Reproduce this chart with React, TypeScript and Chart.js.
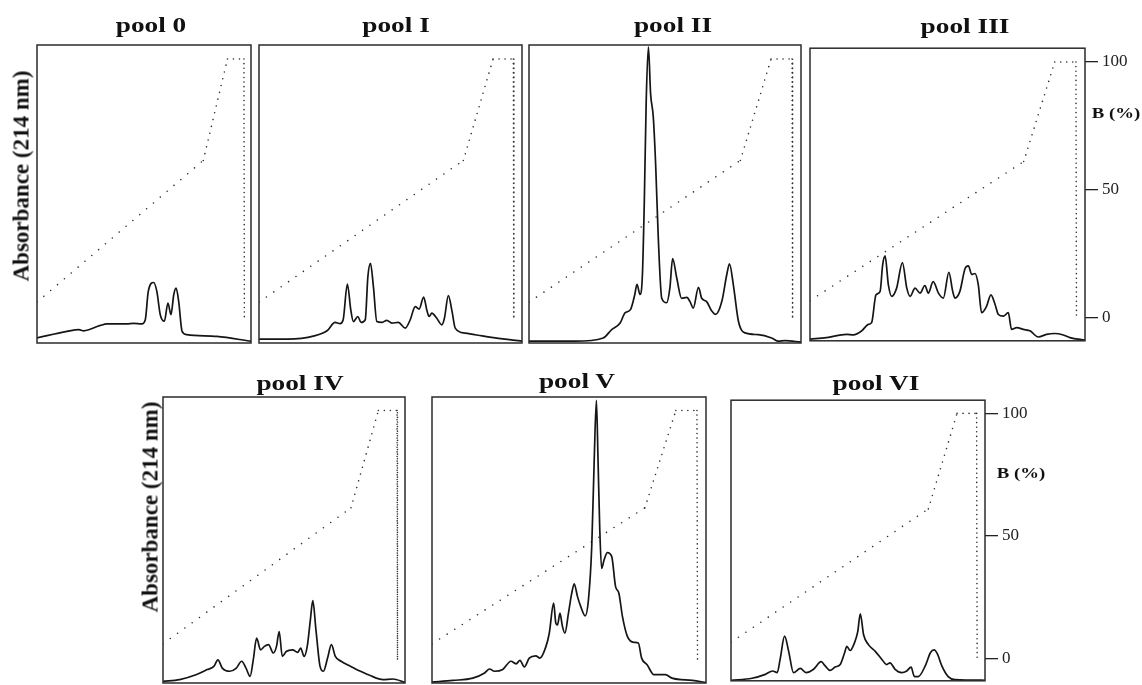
import React, { useEffect, useRef } from "react";
import { Chart, registerables } from "chart.js";

Chart.register(...registerables);

// ---- Gradient (B %) shared by every run ----
const gradientTime = [0, 77.7, 89, 96.7, 96.9];
const gradientB = [6.5, 61, 100, 100, 0];
const bTicks = [0, 50, 100];

// ---- Absorbance traces (time in % of run, absorbance in % of full scale) ----
const pool0Time = [0, 14, 19.6, 21.8, 29.6, 32.7, 42, 45, 49, 50.6, 52, 54.5, 56, 57.6, 59.5, 61.2, 62.6, 63.9, 65, 66.2, 67.8, 70, 84, 100];
const pool0Abs = [1.7, 3.9, 4.5, 4.1, 5.9, 6.4, 6.4, 6.6, 6.4, 7.8, 17.3, 20.3, 17.3, 9.5, 7.3, 13.4, 9.5, 16.2, 18.4, 14, 3.9, 2.8, 2.2, 0.6];

const pool1Time = [0, 11, 21, 26, 28.9, 30.8, 32, 33.6, 34.9, 35.9, 37.6, 38.8, 40.4, 41.4, 42.4, 43.5, 44.8, 46.7, 48.6, 50.5, 53, 55.6, 57.5, 59.4, 60.9, 62.6, 63.8, 64.7, 65.7, 67.6, 69.5, 70.5, 72, 73.4, 74.6, 78.4, 84.8, 89.8, 100];
const pool1Abs = [1.3, 1.3, 2.4, 4.2, 6.9, 6.5, 7.8, 19.8, 11.1, 7.2, 8.9, 6.9, 7.8, 22.3, 26.7, 18.9, 7.2, 6.9, 7.6, 6.7, 6.9, 5.0, 7.8, 12.2, 11.4, 15.4, 11.1, 8.9, 10, 8.3, 6.1, 8.3, 15.9, 10.6, 5, 3.3, 2.4, 1.7, 0.6];

const pool2Time = [0, 16.9, 27.3, 30.4, 33.5, 35.3, 37.3, 38.9, 39.7, 40.8, 41.7, 42.4, 43.1, 43.9, 44.7, 45.7, 46.6, 47.5, 48.8, 50.6, 51.8, 52.8, 54.3, 56.1, 58, 59.2, 60.4, 62.3, 63.5, 65.3, 67.2, 68.6, 70.9, 72.7, 73.7, 75.1, 77, 79.4, 84.3, 89.2, 91.7, 94.1, 100];
const pool2Abs = [0.6, 0.6, 1.7, 4.5, 6.7, 10.1, 11.2, 16.3, 19.7, 16.3, 23, 47.8, 81.5, 99.4, 83.7, 75.8, 59, 36, 15, 13.5, 18.5, 28.3, 21.9, 15, 15.3, 13.9, 11.7, 18.7, 15, 13.9, 10.7, 9.6, 14, 22.9, 26.6, 19.7, 7.3, 3.4, 2.8, 1.7, 0.6, 0.8, 0.3];

const pool3Time = [0, 6, 13.3, 15.8, 18.8, 21.2, 22.4, 24, 25.5, 26.4, 27.3, 28.5, 29.7, 31.5, 33.6, 35.2, 36.4, 38.2, 40, 41.8, 43, 44.8, 46.7, 48.5, 50.5, 51.9, 52.7, 54.5, 56.4, 57.6, 58.8, 60, 61.2, 62.4, 64.2, 65.8, 67.3, 68.5, 70.3, 72.1, 73.3, 75.2, 77.6, 80, 83, 86, 89, 92.1, 94.5, 100];
const pool3Abs = [0.6, 1.1, 2.2, 2, 3.4, 5.6, 6.2, 15.7, 16.9, 25.8, 29, 19.1, 15.2, 18, 26.7, 18, 15.2, 18, 16.3, 18.9, 16.3, 20.2, 16.3, 14.6, 23.4, 16.9, 14.6, 16.9, 24.7, 25.6, 22.7, 23, 19.1, 9.6, 11.8, 15.7, 12.4, 9, 8.4, 9.6, 3.9, 4.5, 3.9, 3.4, 1.3, 2.2, 2.5, 2, 1.1, 0.2];

const pool4Time = [0, 6.9, 13.6, 18.3, 21, 22.7, 24.5, 27.6, 30.3, 32.5, 34.3, 36, 37.3, 38.7, 40.3, 41.9, 43.6, 45.6, 46.9, 48, 49.3, 50.9, 53.6, 55.6, 56.9, 58.3, 59.6, 60.9, 61.9, 63.2, 64.9, 66.3, 68, 69.6, 71.2, 73.6, 77.6, 81.6, 85.6, 90.9, 94.9, 100];
const pool4Abs = [0.6, 1.2, 2.9, 4.7, 5.8, 8.1, 5.2, 4.1, 5.2, 7.6, 5.2, 2.3, 8.1, 15.7, 11.6, 12.8, 13.4, 10.5, 12.8, 18, 9.3, 11, 11.6, 10.7, 12.2, 9.3, 12.8, 22.1, 28.8, 18.6, 5.8, 4.1, 8.7, 13.4, 9.3, 7.6, 5.8, 4.1, 2.6, 1.2, 1.4, 0.2];

const pool5Time = [0, 7.6, 14.9, 19.2, 21, 22.8, 25.8, 28.8, 30.7, 32.1, 33.7, 35.5, 37.9, 39.4, 41.6, 42.8, 44.4, 45.2, 45.8, 46.7, 47.6, 48.5, 49.8, 51, 51.9, 53.1, 54.3, 55.9, 57.1, 58.3, 59.2, 60, 60.6, 61.2, 61.9, 62.8, 64, 65.6, 67, 68.2, 69.5, 71.3, 73.7, 75.3, 76.5, 78.5, 81, 85.2, 87.6, 95, 100];
const pool5Abs = [0.3, 0.9, 1.7, 3.5, 4.9, 4.1, 4.7, 7.6, 6.7, 7.9, 5.6, 8.7, 9.5, 8.7, 12.8, 17.4, 27.9, 20.9, 20.3, 24.4, 19.8, 17.4, 24.4, 31.4, 34.7, 30.2, 26.7, 23.5, 29.1, 47.7, 77.9, 98.8, 77.9, 54.7, 40.1, 43, 45.6, 44.2, 33.7, 31.4, 23.3, 16.3, 14.2, 14, 8.7, 6.4, 2.9, 2.9, 1.7, 0.9, 0.2];

const pool6Time = [0, 8.3, 13.5, 16.4, 18.2, 19.4, 21.1, 22.7, 24.6, 27.3, 29.5, 32.5, 35.5, 37.1, 39, 41, 43, 44.7, 45.6, 46.9, 48.6, 49.9, 50.9, 52.2, 54.1, 56.8, 59.4, 61.3, 62.6, 64.6, 67.2, 69.2, 70.9, 72.2, 73.7, 76.7, 78.5, 80, 81.3, 83, 85.5, 88.2, 100];
const pool6Abs = [0.2, 0.9, 2.3, 3.5, 2.9, 8, 15.9, 10.5, 2.9, 4.4, 2.9, 4.1, 6.8, 5.3, 3.7, 4.9, 5.8, 9.9, 12.3, 10.8, 13.5, 17.5, 23.9, 16.4, 12.9, 10.5, 7.6, 5.8, 6.4, 4.1, 2.9, 3.5, 4.9, 1.5, 1.5, 5.8, 10, 11, 9.5, 5.3, 1.5, 0.4, 0.2];

const poolTitles = ["pool 0", "pool I", "pool II", "pool III", "pool IV", "pool V", "pool VI"];
const poolTimes = [pool0Time, pool1Time, pool2Time, pool3Time, pool4Time, pool5Time, pool6Time];
const poolAbs = [pool0Abs, pool1Abs, pool2Abs, pool3Abs, pool4Abs, pool5Abs, pool6Abs];

// ---- Layout (page pixels) ----
const PAD = 12;
const AXIS_W = 60;
// [left, top, width, height, showRightAxis]
const boxes: [number, number, number, number, boolean][] = [
  [37, 45, 214, 298, false],
  [259, 45, 263, 298, false],
  [529, 45, 272, 298, false],
  [810, 46, 275, 297, true],
  [163, 397, 242, 286, false],
  [432, 397, 274, 286, false],
  [731, 398, 254, 285, true],
];
const titlePos: [number, number][] = [
  [151, 25], [396, 25], [673, 25], [965, 26], [300, 383], [577, 381], [876, 383],
];

const SERIF = '"Liberation Serif", "Times New Roman", serif';

const frame = {
  id: "frame",
  afterDatasetsDraw(chart: any) {
    const { ctx, chartArea: a } = chart;
    ctx.save();
    ctx.strokeStyle = "#2b2b2b";
    ctx.lineWidth = 1.5;
    ctx.strokeRect(a.left, a.top, a.right - a.left, a.bottom - a.top);
    ctx.restore();
  },
};

const dashBySegment = [[0, 9], [0, 7], [0, 6], [0, 4.6]];

export default function App() {
  const refs = useRef<(HTMLCanvasElement | null)[]>([]);

  useEffect(() => {
    const charts = boxes.map((b, i) => {
      const canvas = refs.current[i]!;
      const showRight = b[4];
      return new Chart(canvas, {
        type: "line",
        data: {
          datasets: [
            {
              data: poolTimes[i].map((t, k) => ({ x: t, y: poolAbs[i][k] })),
              borderColor: "#151515",
              borderWidth: 1.7,
              pointRadius: 0,
              cubicInterpolationMode: "monotone",
              yAxisID: "y",
            },
            {
              data: gradientTime.map((t, k) => ({ x: t, y: gradientB[k] })),
              borderColor: "#2e2e2e",
              borderWidth: 1.6,
              borderCapStyle: "round",
              pointRadius: 0,
              tension: 0,
              yAxisID: "y2",
              segment: {
                borderDash: (ctx: any) => dashBySegment[ctx.p0DataIndex] || [0, 6],
              },
            },
          ],
        },
        options: {
          animation: false,
          responsive: false,
          maintainAspectRatio: false,
          events: [],
          layout: { padding: PAD },
          plugins: {
            legend: { display: false },
            tooltip: { enabled: false },
            title: { display: false },
          },
          scales: {
            x: { type: "linear", min: 0, max: 100, display: false },
            y: { type: "linear", min: 0, max: 100, display: false },
            y2: {
              type: "linear",
              position: "right",
              min: -9.2,
              max: 105.4,
              display: showRight,
              afterBuildTicks: (s: any) => {
                s.ticks = bTicks.map((v) => ({ value: v }));
              },
              afterFit: (s: any) => {
                s.width = showRight ? AXIS_W : 0;
              },
              grid: {
                drawOnChartArea: false,
                drawTicks: true,
                tickLength: 13,
                color: "#222",
                lineWidth: 1.3,
              },
              border: { display: false },
              ticks: {
                padding: 4,
                color: "#222",
                font: { family: SERIF, size: 17 },
              },
            },
          },
        },
        plugins: [frame],
      } as any);
    });
    return () => charts.forEach((c) => c.destroy());
  }, []);

  const titleStyle = (x: number, y: number): React.CSSProperties => ({
    position: "absolute",
    left: x,
    top: y,
    transform: "translate(-50%, -50%) scaleX(1.3)",
    fontFamily: SERIF,
    fontWeight: "bold",
    fontSize: 21,
    lineHeight: "21px",
    whiteSpace: "nowrap",
    color: "#111",
  });

  const absStyle = (x: number, y: number): React.CSSProperties => ({
    position: "absolute",
    left: x,
    top: y,
    transform: "translate(-50%, -50%) rotate(-90deg)",
    fontFamily: SERIF,
    fontWeight: "bold",
    fontSize: 23,
    lineHeight: "23px",
    whiteSpace: "nowrap",
    color: "#111",
  });

  const bStyle = (x: number, y: number): React.CSSProperties => ({
    position: "absolute",
    left: x,
    top: y,
    transform: "translate(-50%, -50%) scaleX(1.25)",
    fontFamily: SERIF,
    fontWeight: "bold",
    fontSize: 15,
    lineHeight: "15px",
    whiteSpace: "nowrap",
    color: "#111",
  });

  return (
    <div
      style={{
        position: "absolute",
        left: 0,
        top: 0,
        width: 1142,
        height: 685,
        overflow: "hidden",
        background: "#fff",
      }}
    >
      {boxes.map((b, i) => (
        <canvas
          key={i}
          ref={(el) => {
            refs.current[i] = el;
          }}
          width={b[2] + 2 * PAD + (b[4] ? AXIS_W : 0)}
          height={b[3] + 2 * PAD}
          style={{ position: "absolute", left: b[0] - PAD, top: b[1] - PAD }}
        />
      ))}
      {poolTitles.map((t, i) => (
        <div key={t} style={titleStyle(titlePos[i][0], titlePos[i][1])}>
          {t}
        </div>
      ))}
      <div style={absStyle(21, 176)}>Absorbance (214 nm)</div>
      <div style={absStyle(150, 507)}>Absorbance (214 nm)</div>
      <div style={bStyle(1116, 113)}>B (%)</div>
      <div style={bStyle(1021, 473)}>B (%)</div>
    </div>
  );
}
